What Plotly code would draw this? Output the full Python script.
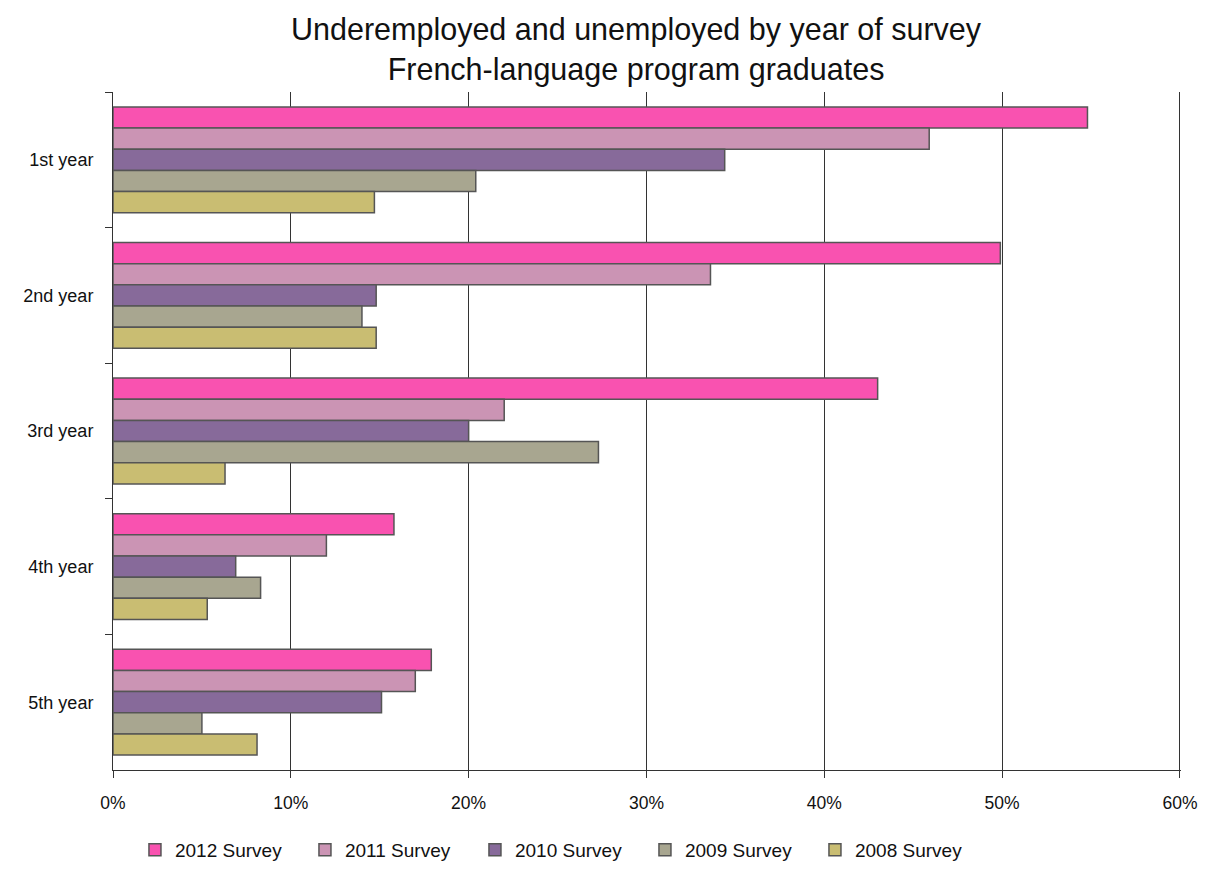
import plotly.graph_objects as go

categories = ["1st year", "2nd year", "3rd year", "4th year", "5th year"]
series_names = ["2012 Survey", "2011 Survey", "2010 Survey", "2009 Survey", "2008 Survey"]
v2012 = [0.548, 0.499, 0.430, 0.158, 0.179]
v2011 = [0.459, 0.336, 0.220, 0.120, 0.170]
v2010 = [0.344, 0.148, 0.200, 0.069, 0.151]
v2009 = [0.204, 0.140, 0.273, 0.083, 0.050]
v2008 = [0.147, 0.148, 0.063, 0.053, 0.081]
values = [v2012, v2011, v2010, v2009, v2008]
colors = ["#F952B0", "#CB94B4", "#876A9A", "#A8A690", "#C9BD72"]
title_text = "Underemployed and unemployed by year of survey<br>French-language program graduates"

fig = go.Figure()
for name, vals, col in zip(series_names, values, colors):
    fig.add_trace(go.Bar(
        y=categories, x=vals, name=name, orientation="h",
        marker=dict(color=col, line=dict(color="#555555", width=1.5)),
    ))

fig.update_layout(
    width=1198, height=859,
    paper_bgcolor="white", plot_bgcolor="white",
    font=dict(family="Liberation Sans, Arial, sans-serif", size=18, color="#111111"),
    barmode="group", bargap=0.22, bargroupgap=0,
    margin=dict(l=105, r=25, t=84, b=97, autoexpand=False),
    legend=dict(orientation="h", x=0.4185, xanchor="center", y=-0.09, yanchor="top",
                font=dict(size=19), traceorder="normal", itemwidth=30,
                entrywidth=125, entrywidthmode="pixels"),
    showlegend=True,
    annotations=[dict(
        text=title_text, xref="paper", yref="paper", x=0.49, y=1.062,
        xanchor="center", yanchor="middle", showarrow=False,
        font=dict(size=30.5, color="#111111"),
    )],
)
fig.update_xaxes(
    range=[0, 0.6006], tickformat=".0%", dtick=0.1, tickfont=dict(size=17.5),
    showgrid=True, gridcolor="#333333", gridwidth=1,
    showline=True, linecolor="#333333", linewidth=1,
    ticks="outside", ticklen=7, tickcolor="#333333",
    zeroline=False, ticklabelstandoff=10, automargin=False,
    ticklabeloverflow="allow",
)
fig.update_yaxes(
    autorange="reversed", showline=True, linecolor="#333333", linewidth=1,
    ticks="outside", ticklen=7, tickcolor="#333333", tickson="boundaries",
    showgrid=False, ticklabelstandoff=15, automargin=False,
)
fig.write_html("out.html")
